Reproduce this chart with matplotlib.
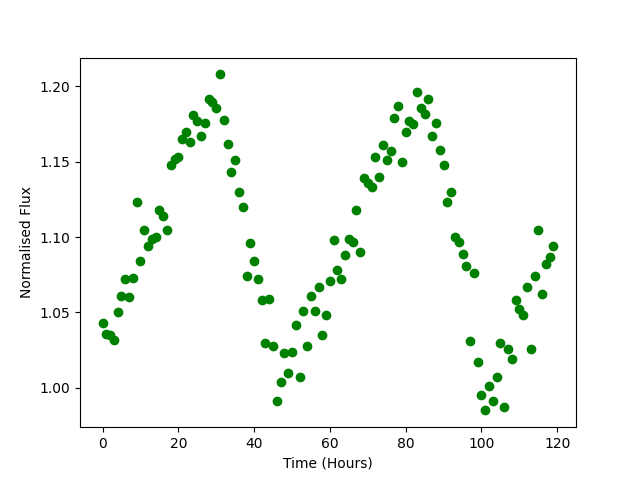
import numpy as np
import matplotlib
matplotlib.use('Agg')
from matplotlib import pyplot as plt

# hourly normalised flux readings
time_hours = np.arange(120)
flux = [1.043, 1.036, 1.035, 1.032, 1.050, 1.061, 1.072, 1.060, 1.073, 1.123,
        1.084, 1.105, 1.094, 1.099, 1.100, 1.118, 1.114, 1.105, 1.148, 1.152,
        1.153, 1.165, 1.170, 1.163, 1.181, 1.177, 1.167, 1.176, 1.192, 1.190,
        1.186, 1.208, 1.178, 1.162, 1.143, 1.151, 1.130, 1.120, 1.074, 1.096,
        1.084, 1.072, 1.058, 1.030, 1.059, 1.028, 0.991, 1.004, 1.023, 1.010,
        1.024, 1.042, 1.007, 1.051, 1.028, 1.061, 1.051, 1.067, 1.035, 1.048,
        1.071, 1.098, 1.078, 1.072, 1.088, 1.099, 1.097, 1.118, 1.090, 1.139,
        1.136, 1.133, 1.153, 1.140, 1.161, 1.151, 1.157, 1.179, 1.187, 1.150,
        1.170, 1.177, 1.175, 1.196, 1.186, 1.182, 1.192, 1.167, 1.176, 1.158,
        1.148, 1.123, 1.130, 1.100, 1.097, 1.089, 1.081, 1.031, 1.076, 1.017,
        0.995, 0.985, 1.001, 0.991, 1.007, 1.030, 0.987, 1.026, 1.019, 1.058,
        1.052, 1.048, 1.067, 1.026, 1.074, 1.105, 1.062, 1.082, 1.087, 1.094]

plt.figure(figsize=(6.4, 4.8), dpi=100)
plt.plot(time_hours, flux, 'go')
plt.xlabel('Time (Hours)')
plt.ylabel('Normalised Flux')
plt.savefig('out.png')
